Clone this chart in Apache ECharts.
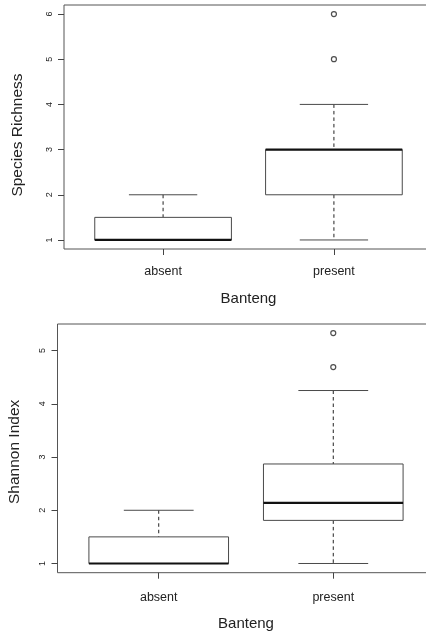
<!DOCTYPE html>
<html>
<head>
<meta charset="utf-8">
<script src="https://cdn.jsdelivr.net/npm/echarts@6/dist/echarts.min.js"></script>
<style>html,body{margin:0;padding:0;background:#fff;overflow:hidden;width:426px;height:633px}#c{width:444px;height:633px}</style>
</head>
<body>
<div id="c"></div>
<script>
// ---- data ----
const categories = ['absent', 'present'];
const xName = 'Banteng';
// [lowerWhisker, Q1, median, Q3, upperWhisker] per category
const richnessStats = [[1, 1, 1, 1.5, 2], [1, 2, 3, 3, 4]];
const richnessOutliers = [[2, 5], [2, 6]];
const richnessTicks = [1, 2, 3, 4, 5, 6];
const shannonStats = [[1, 1, 1, 1.5, 2], [1, 1.81, 2.14, 2.87, 4.25]];
const shannonOutliers = [[2, 4.69], [2, 5.33]];
const shannonTicks = [1, 2, 3, 4, 5];
const catPositions = [1, 2];

const FONT = 'Liberation Sans, Arial, Helvetica, sans-serif';
const boxHalf = 0.4, capHalf = 0.2;

function boxData(stats) {
  return stats.map((s, i) => [catPositions[i]].concat(s));
}

function renderBox(params, api) {
  const x = api.value(0);
  const lo = api.value(1), q1 = api.value(2), med = api.value(3), q3 = api.value(4), hi = api.value(5);
  const pL = api.coord([x - boxHalf, q3]);
  const pR = api.coord([x + boxHalf, q1]);
  const c = api.coord([x, med]);
  const cq1 = api.coord([x, q1]), cq3 = api.coord([x, q3]);
  const clo = api.coord([x, lo]), chi = api.coord([x, hi]);
  const capL = api.coord([x - capHalf, 0])[0], capR = api.coord([x + capHalf, 0])[0];
  const grey = '#4a4a4a';
  const children = [];
  if (hi > q3) children.push({type: 'line', shape: {x1: chi[0], y1: chi[1], x2: cq3[0], y2: cq3[1]}, style: {stroke: '#222', lineWidth: 1, lineDash: [3.5, 3]}});
  if (lo < q1) children.push({type: 'line', shape: {x1: cq1[0], y1: cq1[1], x2: clo[0], y2: clo[1]}, style: {stroke: '#222', lineWidth: 1, lineDash: [3.5, 3]}});
  children.push({type: 'line', shape: {x1: capL, y1: chi[1], x2: capR, y2: chi[1]}, style: {stroke: grey, lineWidth: 1}});
  children.push({type: 'line', shape: {x1: capL, y1: clo[1], x2: capR, y2: clo[1]}, style: {stroke: grey, lineWidth: 1}});
  children.push({type: 'rect', shape: {x: pL[0], y: pL[1], width: pR[0] - pL[0], height: pR[1] - pL[1]}, style: {fill: '#fff', stroke: grey, lineWidth: 1}});
  children.push({type: 'line', shape: {x1: pL[0], y1: c[1], x2: pR[0], y2: c[1]}, style: {stroke: '#111', lineWidth: 2.2}});
  return {type: 'group', children: children};
}

function xAxisOpt(gridIndex, margin, gap) {
  return {
    type: 'value', gridIndex: gridIndex, min: 0.42, max: 2.58,
    axisLine: {show: false},
    splitLine: {show: false},
    axisTick: {show: true, length: 6, customValues: catPositions, lineStyle: {color: '#444'}},
    axisLabel: {show: true, customValues: catPositions, margin: margin, fontSize: 12.5, color: '#222', fontFamily: FONT,
      formatter: v => categories[Math.round(v) - 1]},
    name: xName, nameLocation: 'middle', nameGap: gap,
    nameTextStyle: {fontSize: 15, color: '#222', fontFamily: FONT}
  };
}

function yAxisOpt(gridIndex, min, max, ticks, name, shift, gap) {
  return {
    type: 'value', gridIndex: gridIndex, min: min, max: max,
    axisLine: {show: false},
    splitLine: {show: false},
    axisTick: {show: true, length: 6, customValues: ticks, lineStyle: {color: '#444'}},
    axisLabel: {show: true, customValues: ticks, rotate: 90, margin: 10, fontSize: 9, color: '#222', fontFamily: FONT},
    name: name, nameLocation: 'middle', nameGap: gap,
    nameTextStyle: {fontSize: 15.5, color: '#222', fontFamily: FONT, padding: [0, shift, 0, 0]}
  };
}

const chart = echarts.init(document.getElementById('c'), null, {renderer: 'canvas', width: 444, height: 633});
chart.setOption({
  backgroundColor: '#fff',
  animation: false,
  grid: [
    {left: 64, top: 5, width: 369, height: 244, show: true, borderColor: '#555', borderWidth: 1, backgroundColor: 'transparent', outerBoundsMode: 'none', containLabel: false},
    {left: 57.5, top: 324, width: 377, height: 248.7, show: true, borderColor: '#555', borderWidth: 1, backgroundColor: 'transparent', outerBoundsMode: 'none', containLabel: false}
  ],
  xAxis: [xAxisOpt(0, 16, 42), xAxisOpt(1, 18, 44)],
  yAxis: [
    yAxisOpt(0, 0.8, 6.2, richnessTicks, 'Species Richness', 16, 38),
    yAxisOpt(1, 0.827, 5.5, shannonTicks, 'Shannon Index', 7, 35)
  ],
  series: [
    {type: 'custom', xAxisIndex: 0, yAxisIndex: 0, renderItem: renderBox, data: boxData(richnessStats), encode: {x: 0, y: [1, 2, 3, 4, 5]}},
    {type: 'scatter', xAxisIndex: 0, yAxisIndex: 0, data: richnessOutliers, symbol: 'circle', symbolSize: 5,
      itemStyle: {color: '#fff', borderColor: '#222', borderWidth: 1.2}},
    {type: 'custom', xAxisIndex: 1, yAxisIndex: 1, renderItem: renderBox, data: boxData(shannonStats), encode: {x: 0, y: [1, 2, 3, 4, 5]}},
    {type: 'scatter', xAxisIndex: 1, yAxisIndex: 1, data: shannonOutliers, symbol: 'circle', symbolSize: 5,
      itemStyle: {color: '#fff', borderColor: '#222', borderWidth: 1.2}}
  ]
});
</script>
</body>
</html>
